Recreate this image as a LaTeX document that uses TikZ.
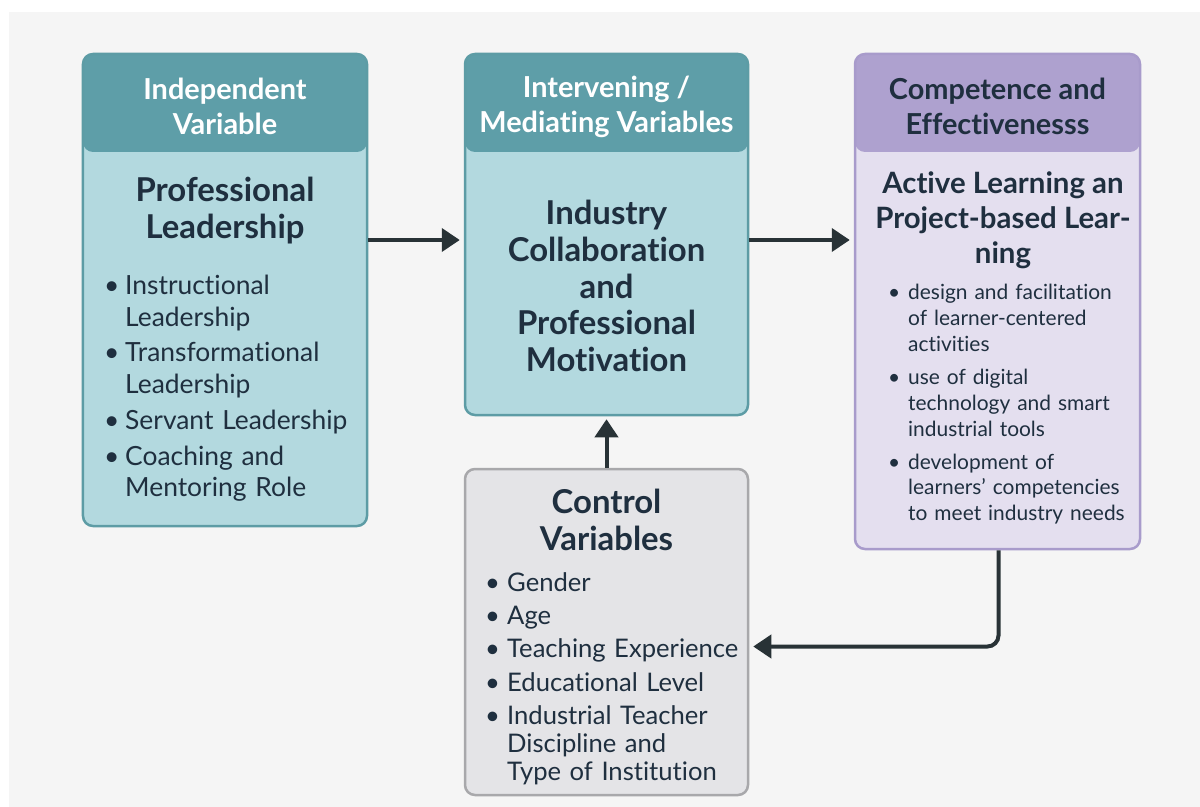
\documentclass[tikz,border=0pt]{standalone}
\usepackage{fontspec}
\setmainfont{Lato}[Ligatures=NoCommon]
\usetikzlibrary{arrows.meta}

\definecolor{tealhead}{HTML}{5E9EA8}
\definecolor{tealbody}{HTML}{B3D9DF}
\definecolor{tealline}{HTML}{5D9CA5}
\definecolor{purphead}{HTML}{AEA1CF}
\definecolor{purpbody}{HTML}{E4DFEF}
\definecolor{purpline}{HTML}{A89BCB}
\definecolor{greybody}{HTML}{E4E4E7}
\definecolor{greyline}{HTML}{A8A8AB}
\definecolor{ink}{HTML}{1F2F3F}
\definecolor{arrowc}{HTML}{283236}
\definecolor{canvas}{HTML}{F5F5F5}

% bullet item with a hanging indent; lines inside an item are broken with \newline
\newcommand\bitem[2][21bp]{\hangindent=#1\hangafter=1\noindent\makebox[#1][l]{\textbullet}#2\par}

\tikzset{
  box/.style={rounded corners=10bp, line width=2.5bp, inner sep=0pt},
  header/.style={path picture={\fill[#1] (path picture bounding box.north west)
      rectangle ([yshift=-98bp]path picture bounding box.north east);}},
  headtext/.style={font=\bfseries\fontsize{29}{35}\selectfont, align=center, inner sep=0pt},
  titletext/.style={font=\bfseries\fontsize{33}{37}\selectfont, align=center, inner sep=0pt, text=ink},
  listtext/.style={inner sep=0pt, anchor=north west, align=left, text=ink},
  link/.style={draw=arrowc, line width=4bp, -{Triangle[length=18bp,width=23bp]}, shorten >=4bp}
}

\begin{document}
\begin{tikzpicture}[x=1bp, y=-1bp]
  % page background
  \fill[white] (0,0) rectangle (1200,807);
  \fill[canvas] (9,12) rectangle (1200,807);
  \useasboundingbox (0,0) rectangle (1200,807);

  % boxes
  \node[box, draw=tealline, fill=tealbody, header=tealhead,
        minimum width=284bp, minimum height=472bp] (iv) at (225,290) {};
  \node[box, draw=tealline, fill=tealbody, header=tealhead,
        minimum width=283bp, minimum height=361bp] (med) at (606.5,234.5) {};
  \node[box, draw=purpline, fill=purpbody, header=purphead,
        minimum width=285bp, minimum height=495bp] (out) at (997.5,301.5) {};
  \node[box, draw=greyline, fill=greybody,
        minimum width=283bp, minimum height=326bp] (ctrl) at (606.5,632) {};

  % independent variable
  \node[headtext, text=white] (ivh) at (225,106.5) {Independent\\Variable};
  \node[titletext] (ivt) at (225,210.5) {Professional\\Leadership};
  \node[listtext, text width=262bp,
        font=\fontsize{26.5}{31.5}\selectfont\setlength{\parskip}{4.5bp}] (ivl) at (104,275) {%
    \bitem{Instructional\newline Leadership}%
    \bitem{Transformational\newline Leadership}%
    \bitem{Servant Leadership}%
    \bitem{Coaching and\newline Mentoring Role}};

  % mediating variables
  \node[headtext, text=white] (medh) at (606.5,106.5) {Intervening /\\Mediating Variables};
  \node[titletext] (medt) at (606.5,286) {Industry\\Collaboration\\and\\Professional\\Motivation};

  % competence and effectiveness
  \node[headtext, text=ink] (outh) at (997.5,106.5) {Competence and\\Effectivenesss};
  \node[titletext, font=\bfseries\fontsize{29.5}{35}\selectfont] (outt) at (1003,220)
    {Active Learning an\\Project-based Lear-\\ning};
  \node[listtext, text width=250bp,
        font=\fontsize{21}{26}\selectfont\setlength{\parskip}{7bp}] (outl) at (888,284) {%
    \bitem[20bp]{design and facilitation\newline of learner-centered\newline activities}%
    \bitem[20bp]{use of digital\newline technology and smart\newline industrial tools}%
    \bitem[20bp]{development of\newline learners' competencies\newline to meet industry needs}};

  % control variables
  \node[titletext] (ctrlt) at (606.5,519.5) {Control\\Variables};
  \node[listtext, text width=262bp,
        font=\fontsize{25.7}{28}\selectfont\setlength{\parskip}{5.5bp}] (ctrll) at (485,572) {%
    \bitem[22bp]{Gender}%
    \bitem[22bp]{Age}%
    \bitem[22bp]{Teaching Experience}%
    \bitem[22bp]{Educational Level}%
    \bitem[22bp]{Industrial Teacher\newline Discipline and\newline Type of Institution}};

  % connectors
  \draw[link] ([yshift=-5.5bp]iv.east |- med.west) -- ([yshift=-5.5bp]med.west);
  \draw[link] ([yshift=-5.5bp]med.east) -- ([yshift=-5.5bp]med.east -| out.west);
  \draw[link, shorten >=3bp] (ctrl.north) -- (med.south);
  \draw[link, rounded corners=11bp] ([xshift=1bp]out.south) |- ([yshift=-14.5bp]ctrl.east);
\end{tikzpicture}
\end{document}
